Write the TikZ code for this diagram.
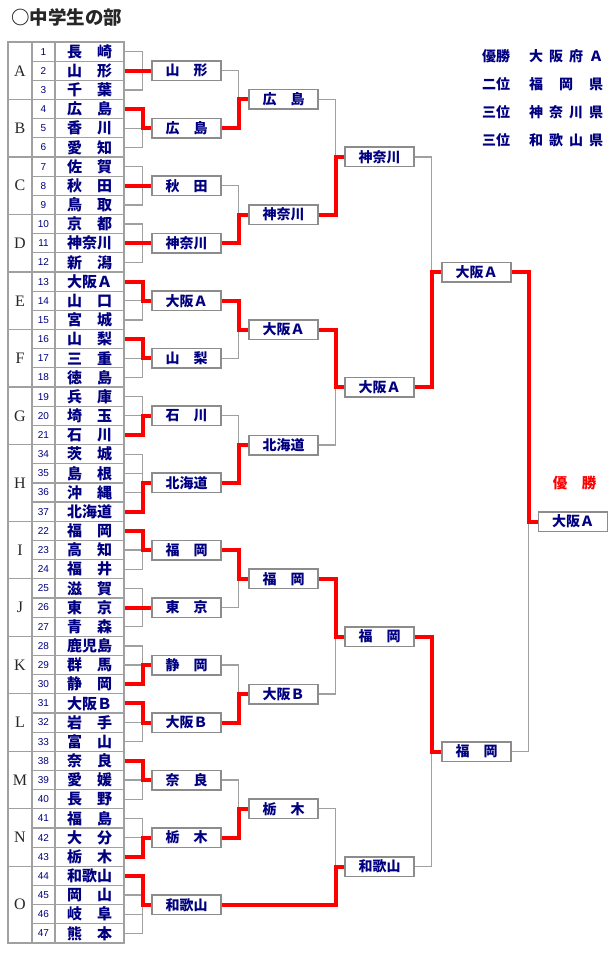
\documentclass[tikz,border=0pt]{standalone}
\usepackage{fontspec}
\setmainfont{Liberation Serif}
\newfontfamily\jp{Noto Sans CJK JP}
\newfontfamily\numfont{Liberation Sans}
\definecolor{navy}{RGB}{0,0,128}
\definecolor{tgray}{RGB}{160,160,160}
\definecolor{bgray}{RGB}{140,140,140}
\newcommand{\spreadbox}[1]{\makebox[74pt][s]{#1}}

\begin{document}
\begin{tikzpicture}[x=1pt, y=-1pt,
  every node/.style={inner sep=0pt},
  cell/.style={draw=tgray, line width=1.2pt, minimum height=19.17pt},
  namecell/.style={cell, minimum width=69pt, text=navy, font=\jp\bfseries\fontsize{15}{15}\selectfont},
  numcell/.style={cell, minimum width=23pt, text=navy, font=\numfont\fontsize{10}{10}\selectfont},
  groupcell/.style={draw=tgray, line width=1.2pt, minimum width=24pt, font=\fontsize{16}{16}\selectfont, text=black!85},
  box/.style={draw=bgray, line width=1.5pt, fill=white, minimum width=69pt, minimum height=19.5pt, text=navy, font=\jp\bfseries\fontsize{14}{14}\selectfont},
  link/.style={draw=tgray, line width=1.3pt},
  win/.style={draw=red, line width=4pt},
  legend/.style={anchor=west, text=navy, font=\jp\bfseries\fontsize{14}{14}\selectfont}]
\useasboundingbox (0,0) rectangle (610,960);

\node[anchor=west, text=black!85, font=\jp\bfseries\fontsize{18.5}{18.5}\selectfont] (title) at (11,17) {○中学生の部};

% entry table
\foreach \num/\name [count=\i] in {1/長　崎, 2/山　形, 3/千　葉, 4/広　島, 5/香　川, 6/愛　知,
    7/佐　賀, 8/秋　田, 9/鳥　取, 10/京　都, 11/神奈川, 12/新　潟, 13/大阪Ａ, 14/山　口,
    15/宮　城, 16/山　梨, 17/三　重, 18/徳　島, 19/兵　庫, 20/埼　玉, 21/石　川, 34/茨　城,
    35/島　根, 36/沖　縄, 37/北海道, 22/福　岡, 23/高　知, 24/福　井, 25/滋　賀, 26/東　京,
    27/青　森, 28/鹿児島, 29/群　馬, 30/静　岡, 31/大阪Ｂ, 32/岩　手, 33/富　山, 38/奈　良,
    39/愛　媛, 40/長　野, 41/福　島, 42/大　分, 43/栃　木, 44/和歌山, 45/岡　山, 46/岐　阜,
    47/熊　本} {
  \node[numcell] (k\i) at (43.5, {42+(\i-0.5)*19.17}) {\num};
  \node[namecell] (n\i) at (89.5, {42+(\i-0.5)*19.17}) {\name};
}
\foreach \g/\first/\n in {A/1/3, B/4/3, C/7/3, D/10/3, E/13/3, F/16/3, G/19/3, H/22/4,
    I/26/3, J/29/3, K/32/3, L/35/3, M/38/3, N/41/3, O/44/4}
  \node[groupcell, minimum height={\n*19.17pt}] (g\g) at (20, {42+(\first-1+\n/2)*19.17}) {\g};

% first round
\node[box] (r1a) at (186.5,70.8) {山　形};
\node[box] (r1b) at (186.5,128.3) {広　島};
\node[box] (r1c) at (186.5,185.8) {秋　田};
\node[box] (r1d) at (186.5,243.3) {神奈川};
\node[box] (r1e) at (186.5,300.8) {大阪Ａ};
\node[box] (r1f) at (186.5,358.3) {山　梨};
\node[box] (r1g) at (186.5,415.8) {石　川};
\node[box] (r1h) at (186.5,482.9) {北海道};
\node[box] (r1i) at (186.5,550.0) {福　岡};
\node[box] (r1j) at (186.5,607.5) {東　京};
\node[box] (r1k) at (186.5,665.0) {静　岡};
\node[box] (r1l) at (186.5,722.5) {大阪Ｂ};
\node[box] (r1m) at (186.5,780.0) {奈　良};
\node[box] (r1n) at (186.5,837.6) {栃　木};
\node[box] (r1o) at (186.5,904.7) {和歌山};

% second round
\node[box] (r2a) at (283.5,99.5) {広　島};
\node[box] (r2b) at (283.5,214.6) {神奈川};
\node[box] (r2c) at (283.5,329.6) {大阪Ａ};
\node[box] (r2d) at (283.5,445.0) {北海道};
\node[box] (r2e) at (283.5,578.8) {福　岡};
\node[box] (r2f) at (283.5,694.0) {大阪Ｂ};
\node[box] (r2g) at (283.5,808.8) {栃　木};

% third round
\node[box] (r3a) at (379.5,157.0) {神奈川};
\node[box] (r3b) at (379.5,387.3) {大阪Ａ};
\node[box] (r3c) at (379.5,636.5) {福　岡};
\node[box] (r3d) at (379.5,866.5) {和歌山};

% semifinal and final
\node[box] (r4a) at (476.5,272.2) {大阪Ａ};
\node[box] (r4b) at (476.5,751.5) {福　岡};
\node[box] (champ) at (573,521.5) {大阪Ａ};
\node[text=red, font=\jp\bfseries\fontsize{14.5}{14.5}\selectfont] (winlabel) at (574.5,483) {優　勝};

% results
\node[legend] (p1) at (482,56) {優勝};
\node[legend] (p1t) at (529,56) {\spreadbox{大\hfill 阪\hfill 府\hfill Ａ}};
\node[legend] (p2) at (482,84) {二位};
\node[legend] (p2t) at (529,84) {\spreadbox{福\hfill 岡\hfill 県}};
\node[legend] (p3) at (482,112) {三位};
\node[legend] (p3t) at (529,112) {\spreadbox{神\hfill 奈\hfill 川\hfill 県}};
\node[legend] (p4) at (482,140) {三位};
\node[legend] (p4t) at (529,140) {\spreadbox{和\hfill 歌\hfill 山\hfill 県}};

% bracket lines
\foreach \first/\last/\b in {1/3/r1a, 4/6/r1b, 7/9/r1c, 10/12/r1d, 13/15/r1e, 16/18/r1f,
    19/21/r1g, 22/25/r1h, 26/28/r1i, 29/31/r1j, 32/34/r1k, 35/37/r1l, 38/40/r1m, 41/43/r1n, 44/47/r1o}
  \foreach \i in {\first,...,\last}
    \draw[link] (n\i.east) -- +(18,0) |- (\b.west);
\foreach \p/\q in {r1a/r2a, r1b/r2a, r1c/r2b, r1d/r2b, r1e/r2c, r1f/r2c, r1g/r2d, r1h/r2d,
    r1i/r2e, r1j/r2e, r1k/r2f, r1l/r2f, r1m/r2g, r1n/r2g, r2a/r3a, r2b/r3a, r2c/r3b, r2d/r3b,
    r2e/r3c, r2f/r3c, r2g/r3d, r3a/r4a, r3b/r4a, r3c/r4b, r3d/r4b, r4a/champ, r4b/champ}
  \draw[link] (\p.east) -- +(17,0) |- (\q.west);
\draw[link] (r1o.east) -- +(114,0) |- (r3d.west);

% winners
\foreach \w/\b in {2/r1a, 4/r1b, 8/r1c, 11/r1d, 13/r1e, 16/r1f, 21/r1g, 25/r1h, 26/r1i,
    30/r1j, 34/r1k, 35/r1l, 38/r1m, 43/r1n, 44/r1o}
  \draw[win] (n\w.east) -- +(18,0) |- (\b.west);
\foreach \p/\q in {r1b/r2a, r1d/r2b, r1e/r2c, r1h/r2d, r1i/r2e, r1l/r2f, r1n/r2g,
    r2b/r3a, r2c/r3b, r2e/r3c, r3b/r4a, r3c/r4b, r4a/champ}
  \draw[win] (\p.east) -- +(17,0) |- (\q.west);
\draw[win] (r1o.east) -- +(114,0) |- (r3d.west);
\end{tikzpicture}
\end{document}
